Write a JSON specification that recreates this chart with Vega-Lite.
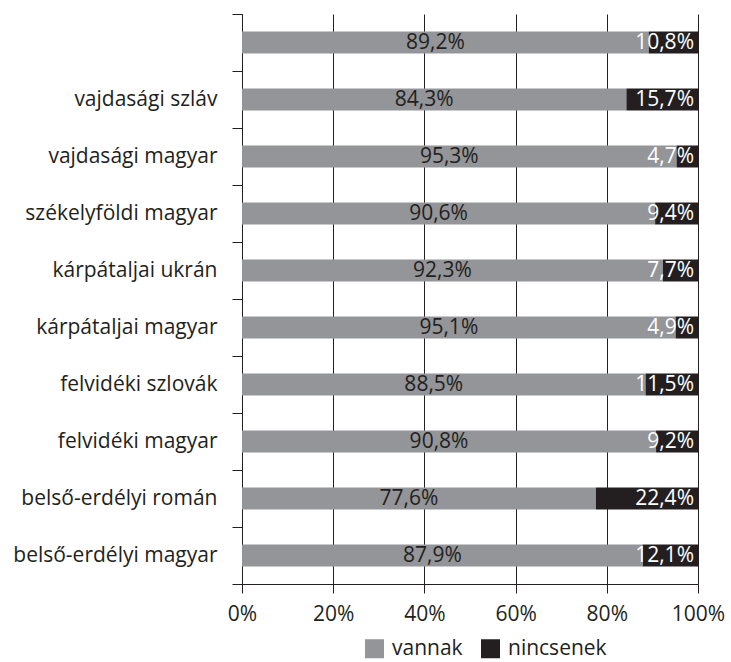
{
  "$schema": "https://vega.github.io/schema/vega-lite/v6.json",
  "width": 456,
  "height": 570,
  "autosize": "none",
  "padding": {"left": 242, "top": 14, "right": 33, "bottom": 78},
  "background": "white",
  "config": {
    "view": {"stroke": null},
    "font": "Open Sans",
    "locale": {"number": {"decimal": ",", "thousands": " ", "grouping": [3], "currency": ["", ""]}},
    "text": {"font": "Open Sans", "fontSize": 21}
  },
  "data": {
    "values": [
      {"csoport": " ", "kategoria": "vannak", "ertek": 0.892},
      {"csoport": " ", "kategoria": "nincsenek", "ertek": 0.108},
      {"csoport": "vajdasági szláv", "kategoria": "vannak", "ertek": 0.843},
      {"csoport": "vajdasági szláv", "kategoria": "nincsenek", "ertek": 0.157},
      {"csoport": "vajdasági magyar", "kategoria": "vannak", "ertek": 0.953},
      {"csoport": "vajdasági magyar", "kategoria": "nincsenek", "ertek": 0.047},
      {"csoport": "székelyföldi magyar", "kategoria": "vannak", "ertek": 0.906},
      {"csoport": "székelyföldi magyar", "kategoria": "nincsenek", "ertek": 0.094},
      {"csoport": "kárpátaljai ukrán", "kategoria": "vannak", "ertek": 0.923},
      {"csoport": "kárpátaljai ukrán", "kategoria": "nincsenek", "ertek": 0.077},
      {"csoport": "kárpátaljai magyar", "kategoria": "vannak", "ertek": 0.951},
      {"csoport": "kárpátaljai magyar", "kategoria": "nincsenek", "ertek": 0.049},
      {"csoport": "felvidéki szlovák", "kategoria": "vannak", "ertek": 0.885},
      {"csoport": "felvidéki szlovák", "kategoria": "nincsenek", "ertek": 0.115},
      {"csoport": "felvidéki magyar", "kategoria": "vannak", "ertek": 0.908},
      {"csoport": "felvidéki magyar", "kategoria": "nincsenek", "ertek": 0.092},
      {"csoport": "belső-erdélyi román", "kategoria": "vannak", "ertek": 0.776},
      {"csoport": "belső-erdélyi román", "kategoria": "nincsenek", "ertek": 0.224},
      {"csoport": "belső-erdélyi magyar", "kategoria": "vannak", "ertek": 0.879},
      {"csoport": "belső-erdélyi magyar", "kategoria": "nincsenek", "ertek": 0.121}
    ]
  },
  "encoding": {
    "y": {
      "field": "csoport",
      "type": "nominal",
      "sort": [" ", "vajdasági szláv", "vajdasági magyar", "székelyföldi magyar", "kárpátaljai ukrán", "kárpátaljai magyar", "felvidéki szlovák", "felvidéki magyar", "belső-erdélyi román", "belső-erdélyi magyar"],
      "scale": {"paddingInner": 0, "paddingOuter": 0},
      "axis": {
        "title": null,
        "labelFontSize": 21,
        "labelColor": "#231f20",
        "labelPadding": 15,
        "labelLimit": 300,
        "tickSize": 10,
        "tickBand": "extent",
        "tickColor": "#231f20",
        "domainColor": "#231f20",
        "grid": false
      }
    }
  },
  "layer": [
    {
      "mark": {"type": "bar", "height": {"band": 0.386}},
      "encoding": {
        "x": {
          "field": "ertek",
          "type": "quantitative",
          "stack": "zero",
          "scale": {"domain": [0, 1]},
          "axis": {
            "title": null,
            "format": ".0%",
            "values": [0, 0.2, 0.4, 0.6, 0.8, 1],
            "labelFontSize": 21,
            "labelColor": "#231f20",
            "labelPadding": 10,
            "tickSize": 9,
            "tickColor": "#231f20",
            "domainColor": "#231f20",
            "grid": true,
            "gridColor": "#231f20",
            "gridOpacity": 1,
            "labelFlush": false
          }
        },
        "color": {
          "field": "kategoria",
          "type": "nominal",
          "scale": {"domain": ["vannak", "nincsenek"], "range": ["#939598", "#231f20"]},
          "legend": {
            "title": null,
            "orient": "none",
            "legendX": 122,
            "legendY": 624,
            "direction": "horizontal",
            "symbolType": "square",
            "symbolSize": 361,
            "symbolStrokeWidth": 0,
            "labelFontSize": 21,
            "labelColor": "#231f20",
            "labelOffset": 7,
            "columnPadding": 17
          }
        },
        "order": {"field": "kategoria", "sort": "descending"}
      }
    },
    {
      "transform": [{"filter": "datum.kategoria === 'vannak'"}],
      "mark": {"type": "text", "dx": -10, "color": "#231f20", "fontSize": 21},
      "encoding": {
        "x": {"field": "ertek", "type": "quantitative", "scale": {"domain": [0, 2]}, "axis": null},
        "text": {"field": "ertek", "type": "quantitative", "format": ".1%"}
      }
    },
    {
      "transform": [{"filter": "datum.kategoria === 'nincsenek'"}],
      "mark": {"type": "text", "align": "right", "dx": -4, "color": "white", "fontSize": 21},
      "encoding": {
        "x": {"datum": 1, "type": "quantitative", "scale": {"domain": [0, 1]}, "axis": null},
        "text": {"field": "ertek", "type": "quantitative", "format": ".1%"}
      }
    }
  ],
  "resolve": {"scale": {"x": "independent"}}
}
